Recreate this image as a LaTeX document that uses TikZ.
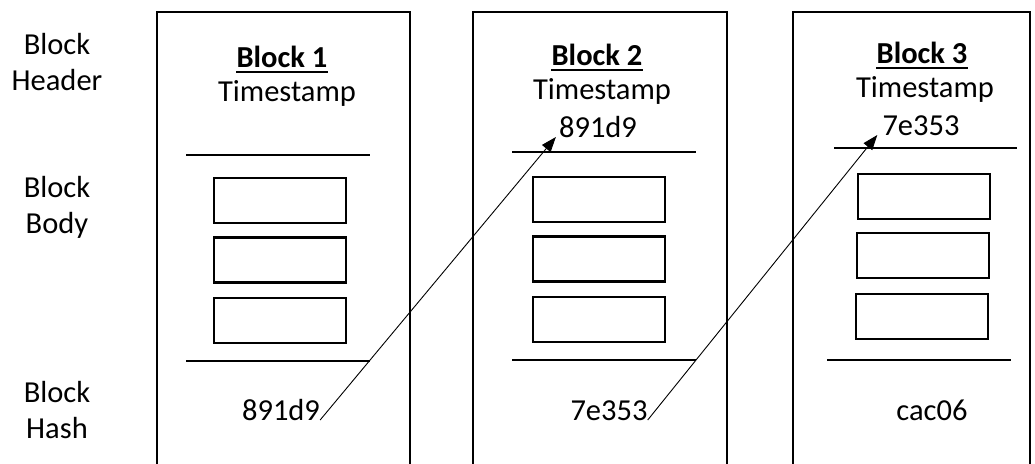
\documentclass[tikz,border=0pt]{standalone}
\usepackage{fontspec}
\setmainfont{Carlito}
\usetikzlibrary{arrows.meta}
\begin{document}
\begin{tikzpicture}[x=1pt,y=-1pt,
  txt/.style={inner sep=0pt, anchor=base, font=\fontsize{30.5}{37}\selectfont},
  ttl/.style={txt, font=\fontsize{30.5}{37}\selectfont\bfseries},
  ul/.style={line width=2.2pt},
  blk/.style={line width=2.5pt},
  sep/.style={line width=2.5pt},
  cell/.style={draw, line width=2.5pt, minimum width=132pt, minimum height=45pt, inner sep=0pt},
  link/.style={line width=0.9pt, -{Triangle[length=15pt,width=11pt]}}]
\useasboundingbox (0,0) rectangle (1035,463);
\clip (0,0) rectangle (1035,463);
% left labels
\node[txt] (hdrA) at (57,54) {Block};
\node[txt] (hdrB) at (57,90) {Header};
\node[txt] (bodA) at (57,197) {Block};
\node[txt] (bodB) at (57,233) {Body};
\node[txt] (hshA) at (57,402) {Block};
\node[txt] (hshB) at (57,438) {Hash};
% block frames
\draw[blk] (157,470) -- (157,12) -- (410,12) -- (410,470);
\draw[blk] (473,470) -- (473,12) -- (727,12) -- (727,470);
\draw[blk] (793,470) -- (793,12) -- (1030,12) -- (1030,470);
% block 1
\node[ttl] (t1) at (282,67) {Block 1};
\draw[ul] ([yshift=-5pt]t1.base west) -- ([yshift=-5pt]t1.base east);
\node[txt] (s1) at (287,101) {Timestamp};
\draw[sep] (186,155) -- (370,155);
\node[cell] (c11) at (280,200.5) {};
\node[cell] (c12) at (280,260) {};
\node[cell] (c13) at (280,320.5) {};
\draw[sep] (186,361) -- (370,361);
\node[txt] (h1) at (281,420) {891d9};
% block 2
\node[ttl] (t2) at (597,65) {Block 2};
\draw[ul] ([yshift=-5pt]t2.base west) -- ([yshift=-5pt]t2.base east);
\node[txt] (s2) at (602,99) {Timestamp};
\node[txt] (p2) at (598,137) {891d9};
\draw[sep] (512,152) -- (696,152);
\node[cell] (c21) at (599,199.5) {};
\node[cell] (c22) at (599,259) {};
\node[cell] (c23) at (599,319.5) {};
\draw[sep] (512,360) -- (696,360);
\node[txt] (h2) at (609,420) {7e353};
% block 3
\node[ttl] (t3) at (922,63) {Block 3};
\draw[ul] ([yshift=-5pt]t3.base west) -- ([yshift=-5pt]t3.base east);
\node[txt] (s3) at (925,97) {Timestamp};
\node[txt] (p3) at (921,135) {7e353};
\draw[sep] (834,148) -- (1017,148);
\node[cell] (c31) at (924,196.5) {};
\node[cell] (c32) at (923,255.5) {};
\node[cell] (c33) at (922,316.5) {};
\draw[sep] (827,360) -- (1011,360);
\node[txt] (h3) at (932,420) {cac06};
% links
\draw[link] (h1.base east) -- ([xshift=-3pt]p2.base west);
\draw[link] (h2.base east) -- ([xshift=-5pt]p3.base west);
\end{tikzpicture}
\end{document}
